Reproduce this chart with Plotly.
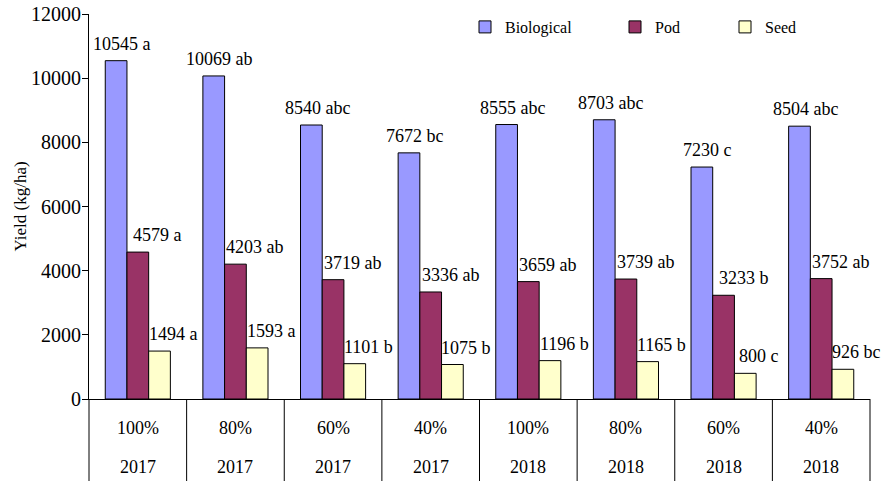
import plotly.graph_objects as go

# ---- data ----
treatments = ["100%", "80%", "60%", "40%", "100%", "80%", "60%", "40%"]
years = ["2017", "2017", "2017", "2017", "2018", "2018", "2018", "2018"]
series_names = ["Biological", "Pod", "Seed"]
biological = [10545, 10069, 8540, 7672, 8555, 8703, 7230, 8504]
pod = [4579, 4203, 3719, 3336, 3659, 3739, 3233, 3752]
seed = [1494, 1593, 1101, 1075, 1196, 1165, 800, 926]
bio_letters = ["a", "ab", "abc", "bc", "abc", "abc", "c", "abc"]
pod_letters = ["a", "ab", "ab", "ab", "ab", "ab", "b", "ab"]
seed_letters = ["a", "a", "b", "b", "b", "b", "c", "bc"]
y_ticks = [0, 2000, 4000, 6000, 8000, 10000, 12000]
y_tick_text = ["0", "2000", "4000", "6000", "8000", "10000", "12000"]

# ---- style ----
FONT = "Liberation Serif"
colors = ["#9999FF", "#993366", "#FFFFCC"]
label_xshift = [6, 20, 14]
BARGAP = 0.333

W, H = 890, 481
ML, MT = 89, 14
plot_w = 870 - 89
plot_h = 399 - 14
MR = W - ML - plot_w
MB = H - MT - plot_h

values = [biological, pod, seed]
letters = [bio_letters, pod_letters, seed_letters]
n = len(treatments)
xs = list(range(n))

fig = go.Figure()
legend_ids = ["legend", "legend2", "legend3"]
for k, name in enumerate(series_names):
    fig.add_trace(go.Bar(
        x=xs, y=values[k], name=name,
        marker=dict(color=colors[k], line=dict(color="black", width=1)),
        legend=legend_ids[k],
        hoverinfo="skip",
    ))

# data labels
bw = (1 - BARGAP) / 3
annotations = []
for k in range(3):
    for i in range(n):
        annotations.append(dict(
            x=i + (k - 1) * bw, y=values[k][i], xref="x", yref="y",
            text=f"{values[k][i]} {letters[k][i]}",
            showarrow=False, yanchor="bottom", xanchor="center",
            xshift=label_xshift[k], yshift=5,
            font=dict(family=FONT, size=18, color="black"),
        ))

# category table labels
for i in range(n):
    annotations.append(dict(
        x=i, y=-(428 - 399) / plot_h, xref="x", yref="paper",
        text=treatments[i], showarrow=False, yanchor="middle",
        font=dict(family=FONT, size=18, color="black"),
    ))
    annotations.append(dict(
        x=i, y=-(467 - 399) / plot_h, xref="x", yref="paper",
        text=years[i], showarrow=False, yanchor="middle",
        font=dict(family=FONT, size=18, color="black"),
    ))

# table vertical lines
shapes = []
for i in range(n + 1):
    shapes.append(dict(
        type="line", xref="paper", yref="paper",
        x0=i / n, x1=i / n, y0=0, y1=-(MB + 2) / plot_h,
        line=dict(color="black", width=1),
    ))

leg_px = [465, 615, 725]
legends = {}
for k, lid in enumerate(legend_ids):
    legends[lid] = dict(
        x=(leg_px[k] - 89) / plot_w, y=1 - (27 - 14) / plot_h,
        xanchor="left", yanchor="middle",
        font=dict(family=FONT, size=16, color="black"),
        bgcolor="rgba(0,0,0,0)", borderwidth=0,
    )

fig.update_layout(
    width=W, height=H,
    margin=dict(l=ML, r=MR, t=MT, b=MB, autoexpand=False),
    paper_bgcolor="white", plot_bgcolor="white",
    barmode="group", bargap=BARGAP, bargroupgap=0,
    showlegend=True,
    font=dict(family=FONT, color="black"),
    xaxis=dict(range=[-0.5, n - 0.5], showticklabels=False, ticks="",
               showgrid=False, zeroline=False, showline=True,
               linecolor="black", linewidth=1, automargin=False),
    yaxis=dict(range=[0, 12000], tickvals=y_ticks, ticktext=y_tick_text,
               ticks="outside", automargin=False, ticklabelstandoff=-3,
               ticklabeloverflow="allow",
               ticklen=6, tickcolor="black", showgrid=False, zeroline=False,
               showline=True, linecolor="black", linewidth=1,
               tickfont=dict(family=FONT, size=20, color="black"),
               title=dict(text="Yield (kg/ha)", standoff=0,
                          font=dict(family=FONT, size=17, color="black"))),
    annotations=annotations,
    shapes=shapes,
    **legends,
)

fig.write_html("out.html",
               config={"displayModeBar": False},
               post_script="document.body.style.margin='0px';document.body.style.overflow='hidden';")
